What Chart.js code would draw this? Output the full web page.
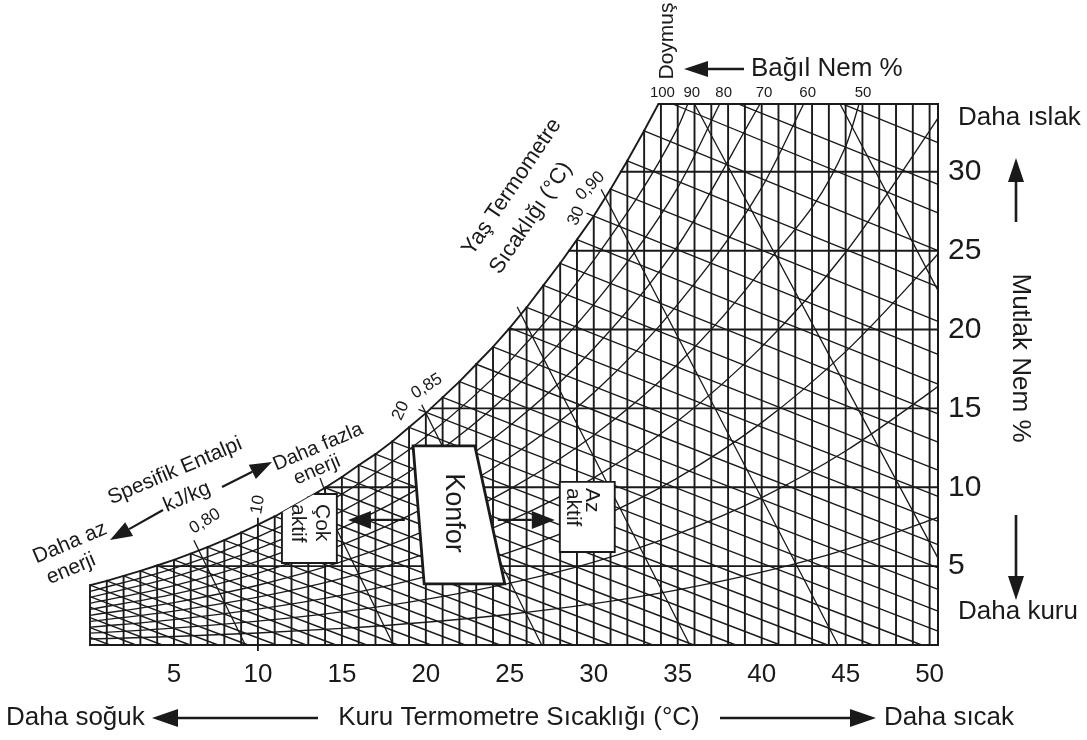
<!DOCTYPE html>
<html>
<head>
<meta charset="utf-8">
<script src="https://cdn.jsdelivr.net/npm/chart.js@4.4.0/dist/chart.umd.min.js"></script>
<style>
  html, body { margin: 0; padding: 0; background: #fff; }
</style>
</head>
<body>
<canvas id="psy" width="1087" height="740"></canvas>
<script>
const ink = '#1a1a1a';
const FONT = '"Liberation Sans", Arial, sans-serif';

const T_MAX = 50.5;   // right edge of the grid, °C
const W_MAX = 34.3;   // top edge of the grid, g/kg

// saturation (100 %) curve, read at every whole degree
const satT = [0,1,2,3,4,5,6,7,8,9,10,11,12,13,14,15,16,17,18,19,20,21,22,23,24,25,26,27,28,29,30,31,32,33,34];
const satW = [3.79,4.07,4.38,4.70,5.04,5.40,5.79,6.21,6.65,7.13,7.63,8.15,8.75,9.35,9.97,10.65,11.4,12.1,12.9,13.8,
              14.7,15.7,16.7,17.8,18.9,20.1,21.4,22.8,24.2,25.7,27.2,28.9,30.7,32.6,34.6];

// horizontal humidity lines and where they leave the saturation curve
const humLevels = [5, 10, 15, 20, 25, 30];
const humStartT = [3.88, 14.04, 20.3, 24.92, 28.53, 31.61];
const topStartT = 33.85;

// relative humidity curves
const rhLevels = [10, 20, 30, 40, 50, 60, 70, 80, 90];
const rhT  = [0, 5, 10, 15, 20, 25, 30, 35, 40, 45, 50, 50.5];
const rh10 = [0.38, 0.54, 0.76, 1.05, 1.44, 1.95, 2.62, 3.50, 4.62, 6.05, 7.90, 8.10];
const rh20 = [0.75, 1.07, 1.51, 2.10, 2.89, 3.92, 5.26, 7.05, 9.35, 12.3, 16.0, 16.4];
const rh30 = [1.13, 1.61, 2.27, 3.16, 4.34, 5.89, 7.92, 10.6, 14.1, 18.6, 24.2, 24.8];
const rh40 = [1.50, 2.15, 3.03, 4.22, 5.80, 7.88, 10.6, 14.2, 18.9, 24.9, 32.6, 33.4];
const rh50 = [1.88, 2.69, 3.79, 5.28, 7.26, 9.88, 13.3, 17.8, 23.8, 31.6];
const rh60 = [2.26, 3.23, 4.56, 6.35, 8.74, 11.9, 16.0, 21.6, 29.0];
const rh70 = [2.64, 3.77, 5.32, 7.42, 10.2, 13.9, 18.8, 25.3];
const rh80 = [3.02, 4.32, 6.09, 8.49, 11.7, 16.0, 21.6, 29.0];
const rh90 = [3.40, 4.86, 6.86, 9.57, 13.2, 18.0, 24.4, 32.8];
const rhTopT = [null, null, null, null, 45.8, 42.5, 39.9, 37.5, 35.6];  // exit through the top edge

// wet bulb lines every 1 °C: [T start, W start, T end, W end]
const wetBulbLines = [
  [0, 0.48, 1.19, 0], [0, 1.10, 2.74, 0], [0, 1.73, 4.31, 0], [0, 2.40, 5.96, 0], [0, 3.07, 7.63, 0],
  [0, 3.79, 9.42, 0], [1, 4.07, 11.11, 0], [2, 4.38, 12.87, 0], [3, 4.70, 14.65, 0], [4, 5.04, 16.48, 0],
  [5, 5.40, 18.36, 0], [6, 5.79, 20.31, 0], [7, 6.21, 22.34, 0], [8, 6.65, 24.41, 0], [9, 7.13, 26.58, 0],
  [10, 7.63, 28.79, 0], [11, 8.15, 31.05, 0], [12, 8.75, 33.51, 0], [13, 9.35, 35.96, 0], [14, 9.97, 38.46, 0],
  [15, 10.65, 41.11, 0], [16, 11.4, 43.92, 0], [17, 12.1, 46.61, 0], [18, 12.9, 49.53, 0],
  [19, 13.8, 50.5, 0.88], [19.6, 14.92, 50.5, 2.15], [21, 15.7, 50.5, 3.52], [22, 16.7, 50.5, 4.89],
  [23, 17.8, 50.5, 6.36], [24, 18.9, 50.5, 7.84], [25, 20.1, 50.5, 9.42], [26, 21.4, 50.5, 11.09],
  [27, 22.8, 50.5, 12.87], [28, 24.2, 50.5, 14.66], [29, 25.7, 50.5, 16.54], [29.6, 27.37, 50.5, 18.43],
  [31, 28.9, 50.5, 20.52], [32, 30.7, 50.5, 22.71], [33, 32.6, 50.5, 25.0], [34.7, 34.3, 50.5, 27.4],
  [38.6, 34.3, 50.5, 29.2], [44.8, 34.3, 50.5, 31.85]
];

// specific volume lines 0,80 ... 0,95 m3/kg
const volumeLines = [
  [6.2, 6.6, 9.25, 0], [13.6, 9.7, 18.07, 0], [19.77, 15.2, 26.9, 0], [25.46, 21.4, 35.72, 0],
  [30.46, 28.85, 44.55, 0], [36.0, 34.3, 50.5, 5.51], [44.67, 34.3, 50.5, 22.47]
];

function gapped(lines) {
  const pts = [];
  lines.forEach(l => {
    pts.push({x: l[0], y: l[1]}, {x: l[2], y: l[3]}, {x: l[2], y: null});
  });
  return pts;
}

const gridLines = [];
for (let t = 0; t <= 50; t++) {
  const top = t < satW.length ? Math.min(satW[t], W_MAX) : W_MAX;
  gridLines.push([t, 0, t, top]);
}
humLevels.forEach((w, i) => gridLines.push([humStartT[i], w, T_MAX, w]));
gridLines.push([topStartT, W_MAX, T_MAX, W_MAX]);

const rhSeries = [rh10, rh20, rh30, rh40, rh50, rh60, rh70, rh80, rh90];
const rhDatasets = rhSeries.map((vals, i) => {
  const pts = vals.map((w, k) => ({x: rhT[k], y: w}));
  if (rhTopT[i] !== null) pts.push({x: rhTopT[i], y: W_MAX});
  return {
    label: 'RH ' + rhLevels[i] + '%',
    data: pts,
    borderColor: ink,
    borderWidth: 1.35,
    cubicInterpolationMode: 'monotone'
  };
});

const datasets = [
  {label: 'grid', data: gapped(gridLines), borderColor: ink, borderWidth: 1.9, clip: false},
  {label: 'yaş termometre', data: gapped(wetBulbLines), borderColor: ink, borderWidth: 1.35, clip: false},
  {label: 'özgül hacim', data: gapped(volumeLines), borderColor: ink, borderWidth: 1.3, clip: false},
  ...rhDatasets,
  {label: 'doymuş', data: satT.map((t, i) => ({x: t, y: satW[i]})), borderColor: ink, borderWidth: 1.9}
];

function text(ctx, s, x, y, deg, size, align) {
  ctx.save();
  ctx.translate(x, y);
  ctx.rotate(deg * Math.PI / 180);
  ctx.font = size + 'px ' + FONT;
  ctx.fillStyle = ink;
  ctx.textAlign = align || 'center';
  ctx.textBaseline = 'middle';
  ctx.fillText(s, 0, 0);
  ctx.restore();
}

function arrow(ctx, x1, y1, x2, y2, len, half, width) {
  const a = Math.atan2(y2 - y1, x2 - x1);
  const bx = x2 - len * Math.cos(a), by = y2 - len * Math.sin(a);
  ctx.save();
  ctx.strokeStyle = ink;
  ctx.fillStyle = ink;
  ctx.lineWidth = width || 2;
  ctx.beginPath();
  ctx.moveTo(x1, y1);
  ctx.lineTo(bx, by);
  ctx.stroke();
  ctx.beginPath();
  ctx.moveTo(x2, y2);
  ctx.lineTo(bx + half * Math.sin(a), by - half * Math.cos(a));
  ctx.lineTo(bx - half * Math.sin(a), by + half * Math.cos(a));
  ctx.closePath();
  ctx.fill();
  ctx.restore();
}

const notes = {
  id: 'notes',
  afterDatasetsDraw(chart) {
    const ctx = chart.ctx;
    const xs = chart.scales.x, ys = chart.scales.y;
    const X = v => xs.getPixelForValue(v);
    const Y = v => ys.getPixelForValue(v);

    ctx.save();
    ctx.strokeStyle = ink;
    ctx.lineWidth = 1.8;
    // tick below the 10 °C line and above the curve
    ctx.beginPath();
    ctx.moveTo(X(10), Y(satW[10]) - 7);
    ctx.lineTo(X(10), Y(satW[10]));
    ctx.moveTo(X(10), Y(0));
    ctx.lineTo(X(10), Y(0) + 6);
    ctx.stroke();

    // Konfor zone
    const konfor = [[19.24, 12.62], [22.92, 12.62], [24.70, 3.87], [19.90, 3.87]];
    ctx.beginPath();
    konfor.forEach((p, i) => i ? ctx.lineTo(X(p[0]), Y(p[1])) : ctx.moveTo(X(p[0]), Y(p[1])));
    ctx.closePath();
    ctx.fillStyle = '#fff';
    ctx.fill();
    ctx.lineWidth = 2.8;
    ctx.stroke();
    text(ctx, 'Konfor', X(21.67), Y(8.37), 90, 27);

    // Çok aktif box, only below the saturation curve
    ctx.save();
    ctx.beginPath();
    ctx.moveTo(X(0), Y(0));
    satT.forEach((t, i) => ctx.lineTo(X(t), Y(satW[i])));
    ctx.lineTo(X(T_MAX), Y(W_MAX));
    ctx.lineTo(X(T_MAX), Y(0));
    ctx.closePath();
    ctx.clip();
    ctx.beginPath();
    ctx.rect(X(11.43), Y(9.57), X(14.7) - X(11.43), Y(5.2) - Y(9.57));
    ctx.fillStyle = '#fff';
    ctx.fill();
    ctx.lineWidth = 1.9;
    ctx.stroke();
    ctx.restore();
    text(ctx, 'Çok', X(13.81), Y(8.94), 90, 21, 'left');
    text(ctx, 'aktif', X(12.38), Y(8.94), 90, 21, 'left');

    // Az aktif box
    ctx.beginPath();
    ctx.rect(X(27.98), Y(10.34), X(31.25) - X(27.98), Y(5.9) - Y(10.34));
    ctx.fillStyle = '#fff';
    ctx.fill();
    ctx.lineWidth = 1.9;
    ctx.stroke();
    text(ctx, 'Az', X(29.9), Y(9.96), 90, 21, 'left');
    text(ctx, 'aktif', X(28.75), Y(9.96), 90, 21, 'left');

    arrow(ctx, X(18.75), Y(7.93), X(15.36), Y(7.93), 23, 9, 2.2);
    arrow(ctx, X(24.29), Y(7.93), X(27.68), Y(7.93), 23, 9, 2.2);

    // labels on the curve
    text(ctx, '10', X(10.0), Y(8.9), -80, 17);
    text(ctx, '20', X(18.5), Y(14.85), -65, 17);
    text(ctx, '30', X(28.95), Y(27.2), -65, 17);
    text(ctx, '0,80', X(6.85), Y(7.85), -32, 17);
    text(ctx, '0,85', X(20.06), Y(16.4), -32, 17);
    text(ctx, '0,90', X(29.8), Y(29.1), -45, 17);

    // relative humidity labels above the top edge
    const topT = [topStartT, 35.6, 37.5, 39.9, 42.5, 45.8];
    ['100', '90', '80', '70', '60', '50'].forEach((s, i) => text(ctx, s, X(topT[i]) + 4, Y(W_MAX) - 11, 0, 15));

    // leader under "Daha fazla enerji"
    ctx.beginPath();
    ctx.lineWidth = 1.3;
    ctx.moveTo(320, 478);
    ctx.lineTo(326, 494);
    ctx.stroke();
    ctx.restore();

    // outer annotations
    text(ctx, 'Doymuş', 667, 41, -90, 21);
    arrow(ctx, 744, 69, 684, 69, 24, 8, 2.6);
    text(ctx, 'Bağıl Nem %', 751, 69, 0, 26, 'left');

    text(ctx, 'Yaş Termometre', 512, 187, -56, 22);
    text(ctx, 'Sıcaklığı (°C)', 531, 218, -56, 22);

    text(ctx, 'Spesifik Entalpi', 175, 471, -23, 21);
    text(ctx, 'kJ/kg', 187, 497, -23, 21);
    text(ctx, 'Daha az', 70, 543, -23, 21);
    text(ctx, 'enerji', 71, 569, -23, 21);
    text(ctx, 'Daha fazla', 318, 447, -23, 20);
    text(ctx, 'enerji', 317, 470, -23, 20);
    arrow(ctx, 163, 510, 110, 540, 22, 8, 2.2);
    arrow(ctx, 222, 487, 272, 462, 22, 8, 2.2);

    text(ctx, 'Daha ıslak', 958, 118, 0, 26, 'left');
    arrow(ctx, 1016, 222, 1016, 158, 24, 8, 2.6);
    text(ctx, 'Mutlak Nem %', 1020, 358, 90, 26);
    arrow(ctx, 1016, 515, 1016, 600, 24, 8, 2.6);
    text(ctx, 'Daha kuru', 958, 612, 0, 26, 'left');

    text(ctx, 'Daha soğuk', 6, 718, 0, 26, 'left');
    arrow(ctx, 318, 718, 152, 718, 26, 9, 2.6);
    text(ctx, 'Kuru Termometre Sıcaklığı (°C)', 519, 718, 0, 26);
    arrow(ctx, 720, 718, 876, 718, 26, 9, 2.6);
    text(ctx, 'Daha sıcak', 884, 718, 0, 26, 'left');
  }
};

new Chart(document.getElementById('psy'), {
  type: 'line',
  data: {datasets: datasets},
  options: {
    responsive: false,
    animation: false,
    layout: {padding: {left: 90, top: 104, right: 0, bottom: 0}},
    plugins: {legend: {display: false}, tooltip: {enabled: false}},
    elements: {point: {radius: 0, hoverRadius: 0}, line: {tension: 0, borderCapStyle: 'square'}},
    scales: {
      x: {
        type: 'linear', min: 0, max: T_MAX, position: 'bottom',
        grid: {display: false, drawTicks: false},
        border: {display: true, color: ink, width: 2},
        ticks: {stepSize: 5, includeBounds: false, padding: 14, color: ink, maxRotation: 0,
                font: {family: FONT, size: 26}, callback: v => v === 0 ? '' : v},
        afterFit: s => { s.height = 95; }
      },
      y: {
        type: 'linear', min: 0, max: W_MAX, position: 'right',
        grid: {display: false, drawTicks: false},
        border: {display: true, color: ink, width: 2},
        ticks: {stepSize: 5, includeBounds: false, padding: 10, color: ink,
                font: {family: FONT, size: 30}, callback: v => v === 0 ? '' : v},
        afterFit: s => { s.width = 149; }
      }
    }
  },
  plugins: [notes]
});
</script>
</body>
</html>
